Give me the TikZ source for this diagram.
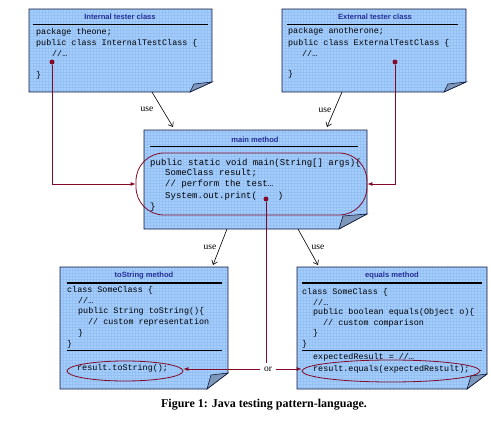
\documentclass[tikz,border=0pt]{standalone}
\usepackage{fontspec}
\setmainfont{Liberation Serif}
\newfontfamily\codef{Liberation Mono}
\newfontfamily\titlef{Liberation Sans}
\usetikzlibrary{arrows.meta,fit,shapes.geometric}
\definecolor{notefill}{RGB}{166,206,252}
\definecolor{gridc}{RGB}{148,192,244}
\definecolor{titlec}{RGB}{38,48,150}
\definecolor{redc}{RGB}{130,10,40}
\definecolor{flapc}{RGB}{125,152,186}
\definecolor{edgec}{RGB}{20,25,60}
\tikzset{
  boxline/.style={draw=edgec, line width=0.7pt, line join=miter},
  gridln/.style={draw=gridc, line width=0.3pt},
  flap/.style={fill=flapc, draw=edgec, line width=0.6pt},
  ttl/.style={font=\titlef\bfseries\fontsize{7.6}{10}\selectfont, text=titlec, inner sep=0pt},
  code/.style={font=\codef\fontsize{8.4}{10}\selectfont, anchor=west, inner sep=0pt},
  mcode/.style={font=\codef\fontsize{9}{10}\selectfont, anchor=west, inner sep=0pt},
  uline/.style={draw=black, line width=0.6pt},
  thickuline/.style={draw=black, line width=1.6pt},
  dot/.style={circle, fill=redc, inner sep=0pt, minimum size=5pt},
  redln/.style={draw=redc, line width=0.8pt, -{Latex[length=5pt,width=4pt]}},
  redplain/.style={draw=redc, line width=0.8pt},
  usearr/.style={draw=black, line width=0.6pt, -{Straight Barb[length=4pt,width=6pt]}},
  uselbl/.style={font=\fontsize{9.5}{10}\selectfont, inner sep=1pt},
  redell/.style={draw=redc, line width=0.8pt, ellipse, inner sep=0pt},
}
\newcommand{\notebox}[7]{%
  \node[inner sep=0pt, outer sep=0pt, fit={(#2,#3) (#4,#5)}] (#1) {};
  \path[fill=notefill] (#1.south west) -- (#1.north west) -- (#1.north east) -- ([yshift=#7pt]#1.south east) -- ([xshift=-#6pt]#1.south east) -- cycle;
  \begin{scope}
    \clip (#1.south west) -- (#1.north west) -- (#1.north east) -- ([yshift=#7pt]#1.south east) -- ([xshift=-#6pt]#1.south east) -- cycle;
    \draw[gridln] (#1.south west) grid[step=3pt] (#1.north east);
  \end{scope}
  \draw[boxline] (#1.south west) -- (#1.north west) -- (#1.north east) -- ([yshift=#7pt]#1.south east) -- ([xshift=-#6pt]#1.south east) -- cycle;
  \filldraw[flap] ([xshift=-#6pt]#1.south east) -- ([xshift=-#6pt+4pt, yshift=#7pt-2pt]#1.south east) -- ([yshift=#7pt]#1.south east) -- cycle;
}
\begin{document}
\begin{tikzpicture}[x=1pt, y=-1pt]
\useasboundingbox (0,0) rectangle (491,421);

% ---------- Internal tester class ----------
\notebox{int}{29}{9}{212}{92}{22}{10}
\node[ttl] (intt) at (120,17) {Internal tester class};
\draw[uline] (33,24) -- (208,24);
\node[code] (int1) at (36,32) {package theone;};
\node[code] (int2) at (36,43) {public class InternalTestClass \{};
\node[code] (int3) at (52,53) {//…};
\node[code] (int4) at (36,75) {\}};
\node[dot] (idot) at (52,62) {};

% ---------- External tester class ----------
\notebox{ext}{282}{9}{466}{92}{22}{10}
\node[ttl] (extt) at (375,17) {External tester class};
\draw[uline] (287,24) -- (458,24);
\node[code] (ext1) at (288,31) {package anotherone;};
\node[code] (ext2) at (288,43) {public class ExternalTestClass \{};
\node[code] (ext3) at (302,53) {//…};
\node[code] (ext4) at (288,74) {\}};
\node[dot] (edot) at (395,62) {};

% ---------- main method ----------
\notebox{main}{144}{130}{367}{229}{28}{15}
\node[ttl] (maint) at (255,140) {main method};
\draw[uline] (150,146) -- (358,146);
\node[mcode] (m1) at (150,163) {public static void main(String[] args)\{};
\node[mcode] (m2) at (165,173) {SomeClass result;};
\node[mcode] (m3) at (165,184) {// perform the test…};
\node[mcode] (m4) at (165,196) {System.out.print(\hspace{21pt})};
\node[mcode] (m5) at (150,207) {\}};
\node[draw=redc, line width=0.8pt, rounded corners=28pt, inner sep=0pt, fit={(136,153) (367,215)}] (mell) {};
\node[dot] (mdot) at (266,199) {};

% ---------- toString method ----------
\notebox{ts}{60}{267}{228}{389}{21}{16}
\node[ttl] (tst) at (144,276) {toString method};
\draw[thickuline] (67,283) -- (222,283);
\node[code] (ts1) at (67,290) {class SomeClass \{};
\node[code] (ts2) at (78,300) {//…};
\node[code] (ts3) at (78,311) {public String toString()\{};
\node[code] (ts4) at (88,322) {// custom representation};
\node[code] (ts5) at (78,333) {\}};
\node[code] (ts6) at (67,344) {\}};
\draw[uline] (67,350) -- (222,350);
\node[code] (ts7) at (77,368) {result.toString();};
\node[redell, minimum width=116pt, minimum height=20pt] (tsell) at (125,371) {};

% ---------- equals method ----------
\notebox{eq}{297}{267}{487}{389}{20}{15}
\node[ttl] (eqt) at (392,276) {equals method};
\draw[thickuline] (302,283) -- (482,283);
\node[code] (eq1) at (302,292) {class SomeClass \{};
\node[code] (eq2) at (313,302) {//…};
\node[code] (eq3) at (313,312) {public boolean equals(Object o)\{};
\node[code] (eq4) at (323,323) {// custom comparison};
\node[code] (eq5) at (313,333) {\}};
\node[code] (eq6) at (302,344) {\}};
\draw[uline] (302,350) -- (482,350);
\node[code] (eq7) at (313,357) {expectedResult = //…};
\node[code] (eq8) at (313,369) {result.equals(expectedRestult);};
\node[redell, minimum width=178pt, minimum height=22pt] (eqell) at (391,371) {};

% ---------- red connectors ----------
\draw[redln] (idot) |- (mell.west);
\draw[redln] (edot) |- (mell.east);
\node[uselbl, fill=white, inner sep=4pt] (or) at (268,369) {or};
\draw[redplain] (mdot) -- (mdot |- or.north);
\draw[redln] (or.west) -- (tsell.east |- or.west);
\draw[redln] (or.east) -- (eqell.west |- or.east);

% ---------- use arrows ----------
\draw[usearr] ([xshift=31.5pt]int.south) -- ([xshift=-82.5pt,yshift=3pt]main.north);
\node[uselbl] (use1) at (147,109) {use};
\draw[usearr] ([xshift=-32pt]ext.south) -- ([xshift=71.5pt,yshift=3pt]main.north);
\node[uselbl] (use2) at (325,110) {use};
\draw[usearr] ([xshift=-28.5pt]main.south) -- ([xshift=69pt,yshift=2pt]ts.north);
\node[uselbl] (use3) at (210,247) {use};
\draw[usearr] ([xshift=42.5pt]main.south) -- ([xshift=-74pt,yshift=2pt]eq.north);
\node[uselbl] (use4) at (318,247) {use};

% ---------- caption ----------
\node[font=\bfseries\fontsize{12}{14}\selectfont, inner sep=0pt] (cap) at (264,405) {Figure 1: Java testing pattern-language.};
\end{tikzpicture}
\end{document}
